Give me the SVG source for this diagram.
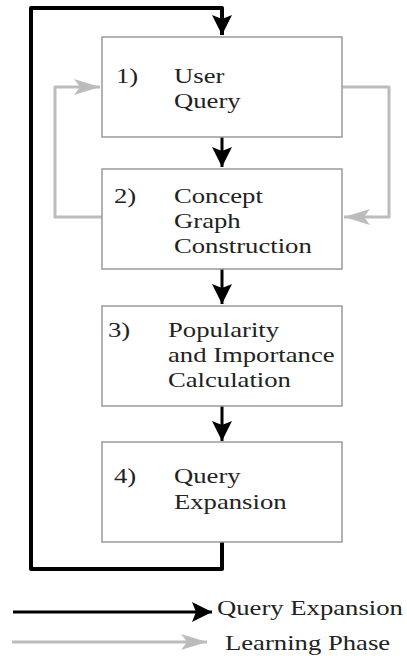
<svg xmlns="http://www.w3.org/2000/svg" width="407" height="656" viewBox="0 0 407 656">
  <style>
    .box { fill: #ffffff; stroke: #9a9a9a; stroke-width: 1.5; }
    .lbl { font-family: "Liberation Serif", "Times New Roman", serif; font-size: 21px; fill: #222222; }
    .flow { fill: none; stroke: #000000; stroke-width: 3; }
    .loop { fill: none; stroke: #000000; stroke-width: 4; stroke-linejoin: round; }
    .learn { fill: none; stroke: #bcbcbc; stroke-width: 3; stroke-linejoin: round; }
  </style>
  <defs>
    <marker id="headBlack" markerUnits="userSpaceOnUse" markerWidth="22" markerHeight="22" viewBox="-20 -10 22 20" refX="0" refY="0" orient="auto">
      <path d="M0,0 L-20,-10 L-16,0 L-20,10 Z" fill="#000000"/>
    </marker>
    <marker id="headGray" markerUnits="userSpaceOnUse" markerWidth="28" markerHeight="18" viewBox="-26 -8 28 16" refX="0" refY="0" orient="auto">
      <path d="M0,0 L-26,-8 L-20,0 L-26,8 Z" fill="#bcbcbc"/>
    </marker>
  </defs>

  <!-- connectors -->
  <g id="connectors">
    <!-- feedback loop from step 4 back to step 1 -->
    <path class="loop" d="M222,542 L222,569 L31,569 L31,8 L222,8 L222,35" marker-end="url(#headBlack)"/>
    <!-- forward flow -->
    <path class="flow" d="M222,137 L222,167" marker-end="url(#headBlack)"/>
    <path class="flow" d="M222,269 L222,304" marker-end="url(#headBlack)"/>
    <path class="flow" d="M222,406 L222,441" marker-end="url(#headBlack)"/>
    <!-- learning phase cycle between steps 1 and 2 -->
    <path class="learn" d="M102,217 L55,217 L55,87 L100,87" marker-end="url(#headGray)"/>
    <path class="learn" d="M342,87 L389,87 L389,217 L344,217" marker-end="url(#headGray)"/>
  </g>

  <!-- step 1 -->
  <g id="node-user-query">
    <rect class="box" x="102" y="37" width="240" height="100"/>
    <text class="lbl" transform="translate(116,83) scale(1.27,1)">1)</text>
    <text class="lbl" transform="translate(174,83) scale(1.27,1)"><tspan x="0" y="0">User</tspan><tspan x="0" y="25">Query</tspan></text>
  </g>

  <!-- step 2 -->
  <g id="node-concept-graph">
    <rect class="box" x="102" y="169" width="240" height="100"/>
    <text class="lbl" transform="translate(114,203) scale(1.27,1)">2)</text>
    <text class="lbl" transform="translate(174,203) scale(1.27,1)"><tspan x="0" y="0">Concept</tspan><tspan x="0" y="25">Graph</tspan><tspan x="0" y="50">Construction</tspan></text>
  </g>

  <!-- step 3 -->
  <g id="node-popularity">
    <rect class="box" x="102" y="306" width="240" height="100"/>
    <text class="lbl" transform="translate(108,337) scale(1.27,1)">3)</text>
    <text class="lbl" transform="translate(168,337) scale(1.27,1)"><tspan x="0" y="0">Popularity</tspan><tspan x="0" y="25">and Importance</tspan><tspan x="0" y="50">Calculation</tspan></text>
  </g>

  <!-- step 4 -->
  <g id="node-query-expansion">
    <rect class="box" x="102" y="442" width="240" height="100"/>
    <text class="lbl" transform="translate(114,483) scale(1.27,1)">4)</text>
    <text class="lbl" transform="translate(174,483) scale(1.27,1)"><tspan x="0" y="0">Query</tspan><tspan x="0" y="26">Expansion</tspan></text>
  </g>

  <!-- legend -->
  <g id="legend">
    <path class="flow" d="M13,612 L212,612" marker-end="url(#headBlack)"/>
    <text class="lbl" transform="translate(217,615) scale(1.27,1)">Query Expansion</text>
    <path class="learn" d="M12,642 L207,642" marker-end="url(#headGray)"/>
    <text class="lbl" transform="translate(225,650) scale(1.27,1)">Learning Phase</text>
  </g>
</svg>
